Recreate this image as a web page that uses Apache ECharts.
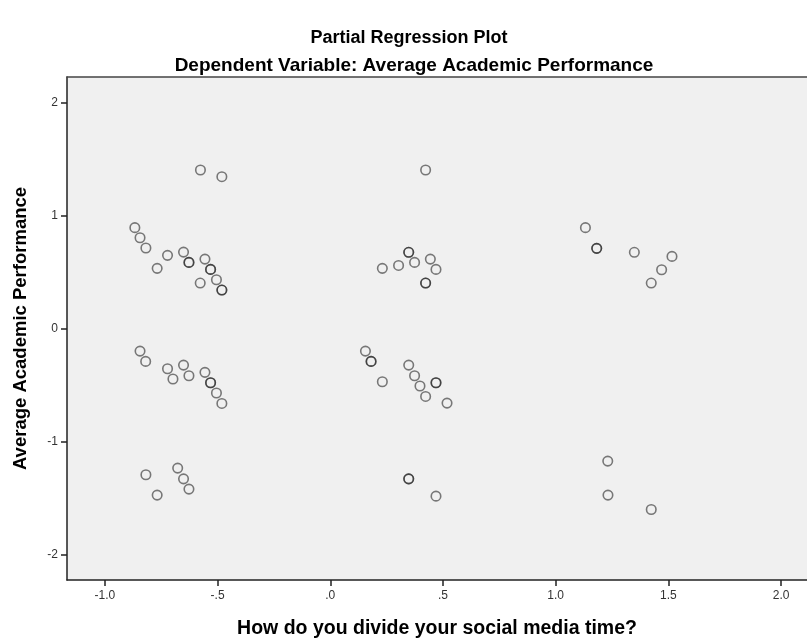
<!DOCTYPE html>
<html>
<head>
<meta charset="utf-8">
<script src="https://cdn.jsdelivr.net/npm/echarts@6/dist/echarts.min.js"></script>
<style>html,body{margin:0;padding:0;background:#fff}#c{width:807px;height:644px}</style>
</head>
<body>
<div id="c"></div>
<script>
const titleMain = 'Partial Regression Plot';
const titleSub = 'Dependent Variable: Average Academic Performance';
const xAxisTitle = 'How do you divide your social media time?';
const yAxisTitle = 'Average Academic Performance';

const xTickValues = [-1, -0.5, 0, 0.5, 1, 1.5, 2];
const xTickLabels = ['-1.0', '-.5', '.0', '.5', '1.0', '1.5', '2.0'];
const yTickValues = [-2, -1, 0, 1, 2];
const yTickLabels = ['-2', '-1', '0', '1', '2'];

// x = social media time residual, y = academic performance residual
const xValues = [
  -0.576, -0.481, -0.867, -0.844, -0.818, -0.722, -0.768, -0.651, -0.627, -0.627,
  -0.556, -0.531, -0.531, -0.505, -0.577, -0.481, -0.481,
  -0.844, -0.819, -0.722, -0.698, -0.651, -0.627, -0.556, -0.531, -0.531, -0.505, -0.481,
  -0.818, -0.677, -0.651, -0.627, -0.768,
  0.423, 0.348, 0.348, 0.374, 0.444, 0.469, 0.303, 0.231, 0.423, 0.423,
  0.156, 0.181, 0.181, 0.231, 0.348, 0.374, 0.398, 0.423, 0.469, 0.469, 0.518,
  0.348, 0.348, 0.469,
  1.132, 1.182, 1.182, 1.349, 1.516, 1.470, 1.424,
  1.231, 1.232, 1.424
];
const yValues = [
  1.407, 1.348, 0.897, 0.808, 0.717, 0.652, 0.537, 0.681, 0.590, 0.590,
  0.619, 0.528, 0.528, 0.436, 0.407, 0.345, 0.345,
  -0.195, -0.286, -0.351, -0.442, -0.319, -0.413, -0.383, -0.475, -0.475, -0.566, -0.658,
  -1.289, -1.230, -1.325, -1.416, -1.469,
  1.407, 0.679, 0.679, 0.590, 0.619, 0.528, 0.563, 0.537, 0.407, 0.407,
  -0.195, -0.286, -0.286, -0.466, -0.319, -0.413, -0.504, -0.596, -0.475, -0.475, -0.655,
  -1.325, -1.325, -1.478,
  0.897, 0.714, 0.714, 0.679, 0.643, 0.525, 0.407,
  -1.168, -1.469, -1.596
];

const points = xValues.map((x, i) => [x, yValues[i]]);

const chart = echarts.init(document.getElementById('c'), null, {renderer: 'canvas'});
const font = 'Liberation Sans, Arial, sans-serif';
chart.setOption({
  backgroundColor: '#ffffff',
  animation: false,
  title: [
    {text: titleMain, left: 404, top: 24, textAlign: 'center',
     textStyle: {fontFamily: font, fontSize: 18, fontWeight: 'bold', color: '#000'}},
    {text: titleSub, left: 409, top: 51, textAlign: 'center',
     textStyle: {fontFamily: font, fontSize: 19, fontWeight: 'bold', color: '#000'}}
  ],
  grid: {left: 67, top: 77, right: 0, bottom: 64, show: true, backgroundColor: '#f0f0f0', borderWidth: 0},
  xAxis: [{
    type: 'value', min: -1.168, max: 2.115, position: 'bottom',
    name: xAxisTitle, nameLocation: 'middle', nameGap: 39,
    nameTextStyle: {fontFamily: font, fontSize: 19.5, fontWeight: 'bold', color: '#000'},
    axisLine: {show: true, onZero: false, lineStyle: {color: '#222', width: 1.5}},
    axisTick: {show: true, inside: false, length: 6, customValues: xTickValues, lineStyle: {color: '#222', width: 1.5}},
    axisLabel: {customValues: xTickValues, margin: 10, fontFamily: font, fontSize: 12, color: '#333',
      formatter: v => xTickLabels[xTickValues.findIndex(t => Math.abs(t - v) < 1e-9)]},
    splitLine: {show: false}
  }, {
    type: 'value', min: -1.168, max: 2.115, position: 'top',
    axisLine: {show: true, onZero: false, lineStyle: {color: '#444', width: 1.5}},
    axisTick: {show: false}, axisLabel: {show: false}, splitLine: {show: false}
  }],
  yAxis: {
    type: 'value', min: -2.22, max: 2.23,
    name: yAxisTitle, nameLocation: 'middle', nameGap: 37,
    nameTextStyle: {fontFamily: font, fontSize: 18.5, fontWeight: 'bold', color: '#000'},
    axisLine: {show: true, onZero: false, lineStyle: {color: '#222', width: 1.5}},
    axisTick: {show: true, inside: false, length: 6, customValues: yTickValues, lineStyle: {color: '#222', width: 1.5}},
    axisLabel: {customValues: yTickValues, margin: 9, fontFamily: font, fontSize: 12, color: '#333',
      formatter: v => yTickLabels[yTickValues.findIndex(t => Math.abs(t - v) < 1e-9)]},
    splitLine: {show: false}
  },
  series: [{
    type: 'scatter', xAxisIndex: 0, data: points,
    symbol: 'circle', symbolSize: 9.5,
    itemStyle: {color: 'rgba(0,0,0,0)', borderColor: 'rgba(30,30,30,0.72)', borderWidth: 1.6},
    emphasis: {disabled: true}
  }]
});
</script>
</body>
</html>
